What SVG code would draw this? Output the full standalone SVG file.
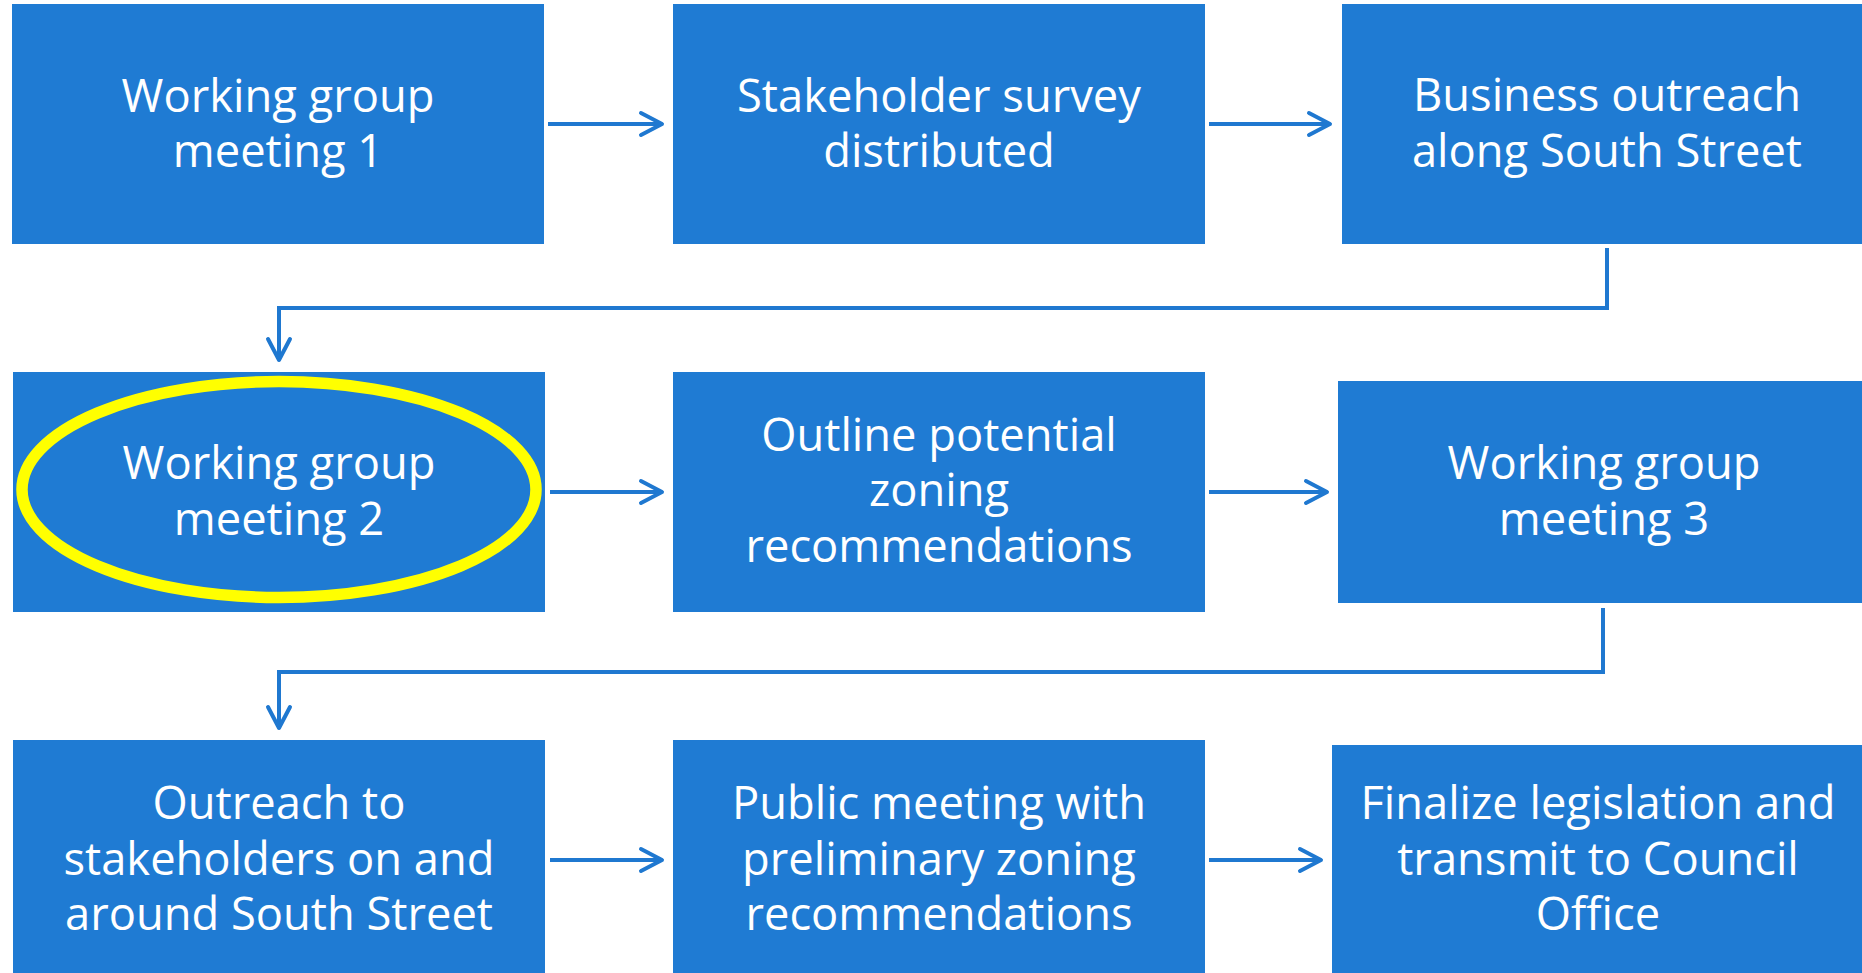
<svg xmlns="http://www.w3.org/2000/svg" width="1862" height="973" viewBox="0 0 1862 973">
<style>
.box{fill:#1F7BD3;}
.lbl{font-family:"Open Sans","Liberation Sans",sans-serif;font-size:45.3px;fill:#FFFFFF;text-anchor:middle;}
.con{fill:none;stroke:#1F78D0;stroke-width:4;marker-end:url(#ah);}
</style>
<defs>
<marker id="ah" markerUnits="userSpaceOnUse" viewBox="-26 -14 30 28" refX="0" refY="0" markerWidth="30" markerHeight="28" orient="auto">
<path d="M-21,-11 L0,0 L-21,11" fill="none" stroke="#1F78D0" stroke-width="4" stroke-linecap="round" stroke-linejoin="round"/>
</marker>
</defs>
<rect width="1862" height="973" fill="#FFFFFF"/>
<g id="connectors">
<path class="con" d="M548,124 H662"/>
<path class="con" d="M1209,124 H1330"/>
<path class="con" d="M1607,248 V308 H279 V360"/>
<path class="con" d="M550,492 H662"/>
<path class="con" d="M1209,492 H1327"/>
<path class="con" d="M1603,608 V672 H279 V728"/>
<path class="con" d="M550,860 H662"/>
<path class="con" d="M1209,860 H1321"/>
</g>
<g id="n1">
<rect class="box" x="12" y="4" width="532" height="240"/>
<text class="lbl" x="278" y="112">Working group</text>
<text class="lbl" x="278" y="167">meeting 1</text>
</g>
<g id="n2">
<rect class="box" x="673" y="4" width="532" height="240"/>
<text class="lbl" x="939" y="112">Stakeholder survey</text>
<text class="lbl" x="939" y="167">distributed</text>
</g>
<g id="n3">
<rect class="box" x="1342" y="4" width="530" height="240"/>
<text class="lbl" x="1607" y="111">Business outreach</text>
<text class="lbl" x="1607" y="167">along South Street</text>
</g>
<g id="n4">
<rect class="box" x="13" y="372" width="532" height="240"/>
<ellipse cx="279" cy="489.5" rx="257" ry="108" fill="none" stroke="#FFFF00" stroke-width="11.5"/>
<text class="lbl" x="279" y="479">Working group</text>
<text class="lbl" x="279" y="535">meeting 2</text>
</g>
<g id="n5">
<rect class="box" x="673" y="372" width="532" height="240"/>
<text class="lbl" x="939" y="451">Outline potential</text>
<text class="lbl" x="939" y="506">zoning</text>
<text class="lbl" x="939" y="562">recommendations</text>
</g>
<g id="n6">
<rect class="box" x="1338" y="381" width="534" height="222"/>
<text class="lbl" x="1604" y="479">Working group</text>
<text class="lbl" x="1604" y="535">meeting 3</text>
</g>
<g id="n7">
<rect class="box" x="13" y="740" width="532" height="240"/>
<text class="lbl" x="279" y="819">Outreach to</text>
<text class="lbl" x="279" y="875">stakeholders on and</text>
<text class="lbl" x="279" y="930">around South Street</text>
</g>
<g id="n8">
<rect class="box" x="673" y="740" width="532" height="240"/>
<text class="lbl" x="939" y="819">Public meeting with</text>
<text class="lbl" x="939" y="875">preliminary zoning</text>
<text class="lbl" x="939" y="930">recommendations</text>
</g>
<g id="n9">
<rect class="box" x="1332" y="745" width="540" height="240"/>
<text class="lbl" x="1598" y="819">Finalize legislation and</text>
<text class="lbl" x="1598" y="875">transmit to Council</text>
<text class="lbl" x="1598" y="930">Office</text>
</g>
</svg>
